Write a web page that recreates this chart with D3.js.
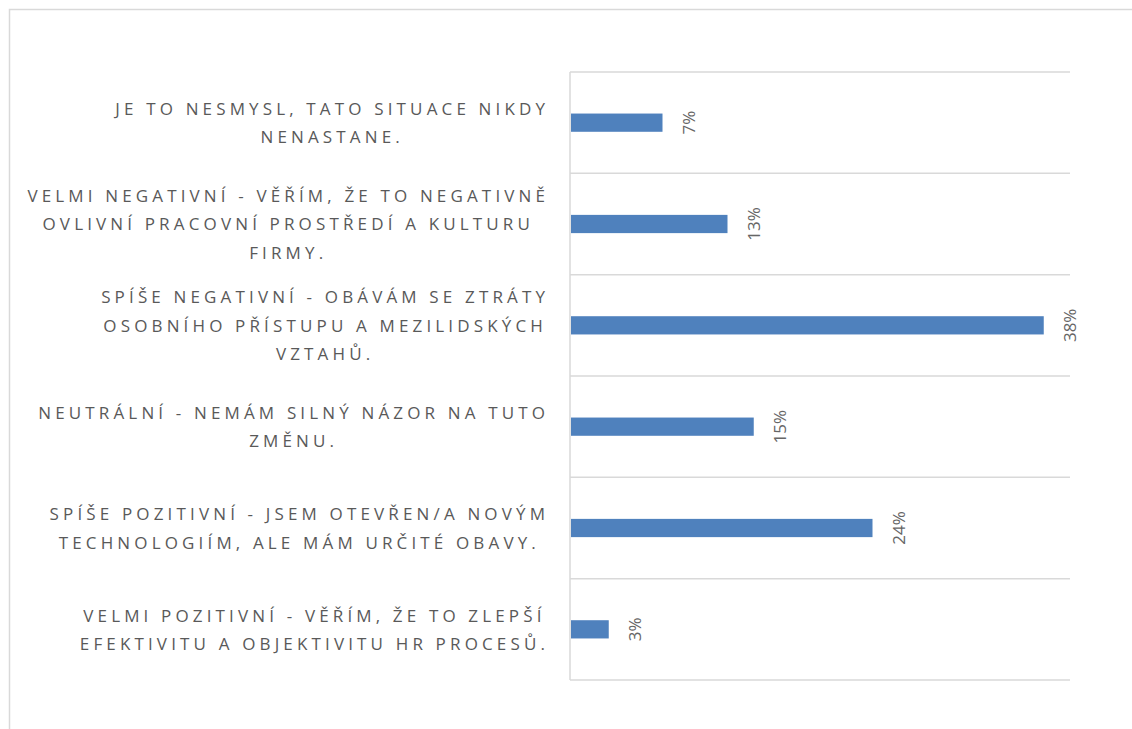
<!DOCTYPE html>
<html>
<head>
<meta charset="utf-8">
<script src="https://cdn.jsdelivr.net/npm/d3@7"></script>
<style>
  html, body { margin: 0; padding: 0; background: #fff; overflow: hidden; }
</style>
</head>
<body>
<svg width="1132" height="729"></svg>
<script>
// category labels (already wrapped as in the original)
const categories = [
  ["JE TO NESMYSL, TATO SITUACE NIKDY", "NENASTANE."],
  ["VELMI NEGATIVNÍ - VĚŘÍM, ŽE TO NEGATIVNĚ", "OVLIVNÍ PRACOVNÍ PROSTŘEDÍ A KULTURU", "FIRMY."],
  ["SPÍŠE NEGATIVNÍ - OBÁVÁM SE ZTRÁTY", "OSOBNÍHO PŘÍSTUPU A MEZILIDSKÝCH", "VZTAHŮ."],
  ["NEUTRÁLNÍ - NEMÁM SILNÝ NÁZOR NA TUTO", "ZMĚNU."],
  ["SPÍŠE POZITIVNÍ - JSEM OTEVŘEN/A NOVÝM", "TECHNOLOGIÍM, ALE MÁM URČITÉ OBAVY."],
  ["VELMI POZITIVNÍ - VĚŘÍM, ŽE TO ZLEPŠÍ", "EFEKTIVITU A OBJEKTIVITU HR PROCESŮ."]
];
// share of answers (%)
const values = [7.4, 12.6, 37.9, 14.7, 24.2, 3.1];
const xMax = 40;

const svg = d3.select("svg");
const margin = { top: 72, right: 62, bottom: 49, left: 570 };
const width = +svg.attr("width");
const height = +svg.attr("height");
const innerWidth = width - margin.left - margin.right;
const innerHeight = height - margin.top - margin.bottom;

const gridColor = "#d9d9d9";
const textColor = "#595959";
const barColor = "#4f81bd";

// outer frame (runs off the right and bottom edge)
svg.append("rect")
  .attr("x", 9.5)
  .attr("y", 9.5)
  .attr("width", 1300)
  .attr("height", 900)
  .attr("fill", "none")
  .attr("stroke", gridColor)
  .attr("stroke-width", 1.5);

const g = svg.append("g")
  .attr("transform", `translate(${margin.left},${margin.top})`);

const x = d3.scaleLinear().domain([0, xMax]).range([0, innerWidth]);
const y = d3.scaleBand()
  .domain(d3.range(categories.length))
  .range([0, innerHeight])
  .padding(0);

// horizontal gridlines at band edges
const edges = d3.range(categories.length + 1).map((i) => i * y.step());
g.append("g")
  .selectAll("line")
  .data(edges)
  .enter()
  .append("line")
  .attr("x1", 0)
  .attr("x2", innerWidth)
  .attr("y1", (d) => d)
  .attr("y2", (d) => d)
  .attr("stroke", gridColor)
  .attr("stroke-width", 1.5);

// vertical axis line
g.append("line")
  .attr("x1", 0)
  .attr("x2", 0)
  .attr("y1", 0)
  .attr("y2", innerHeight)
  .attr("stroke", gridColor)
  .attr("stroke-width", 1.5);

// bars
const barH = y.bandwidth() * 0.18;
g.selectAll(".bar")
  .data(values)
  .enter()
  .append("rect")
  .attr("class", "bar")
  .attr("x", 1)
  .attr("y", (d, i) => y(i) + (y.bandwidth() - barH) / 2)
  .attr("width", (d) => x(d) - 1)
  .attr("height", barH)
  .attr("fill", barColor);

// value labels, rotated
g.selectAll(".val")
  .data(values)
  .enter()
  .append("text")
  .attr("class", "val")
  .attr("transform", (d, i) => `translate(${x(d) + 26},${y(i) + y.bandwidth() / 2}) rotate(-90)`)
  .attr("text-anchor", "middle")
  .attr("dominant-baseline", "central")
  .attr("font-family", "'Open Sans', sans-serif")
  .attr("font-size", 17)
  .attr("fill", "#666")
  .text((d) => Math.round(d) + "%");

// category labels: block right-aligned to the axis, lines centred inside it
const lineH = 28.5;
const labelRight = -23;
categories.forEach((lines, i) => {
  const texts = lines.map((l) =>
    g.append("text")
      .attr("class", "cat")
      .attr("font-family", "'Open Sans', sans-serif")
      .attr("font-size", 17)
      .attr("letter-spacing", "4.15px")
      .attr("fill", textColor)
      .attr("text-anchor", "middle")
      .text(l)
  );
  const widths = texts.map((t) => t.node().getComputedTextLength());
  const maxW = d3.max(widths);
  const cx = labelRight - maxW / 2;
  const cy = y(i) + y.bandwidth() / 2;
  const top = cy - ((lines.length - 1) * lineH) / 2;
  texts.forEach((t, k) => {
    t.attr("x", cx + 2.1)
      .attr("y", top + k * lineH)
      .attr("dy", "0.38em");
  });
});
</script>
</body>
</html>
